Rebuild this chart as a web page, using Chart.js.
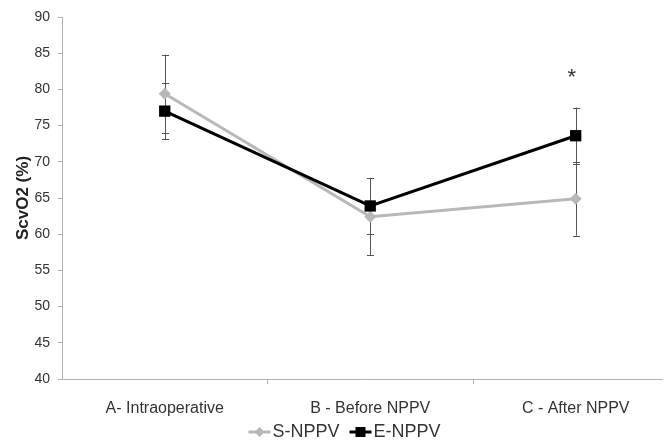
<!DOCTYPE html>
<html>
<head>
<meta charset="utf-8">
<script src="https://cdn.jsdelivr.net/npm/chart.js@4.4.1/dist/chart.umd.min.js"></script>
<style>
  html, body { margin: 0; padding: 0; background: #fff; }
</style>
</head>
<body>
<canvas id="grafico" width="664" height="441"></canvas>
<script>
const categorias = ['A- Intraoperative', 'B - Before NPPV', 'C - After NPPV'];
const sNppv = [79.4, 62.4, 64.9];
const sNppvErro = [5.4, 5.3, 5.1];
const eNppv = [77.0, 63.9, 73.6];
const eNppvErro = [3.9, 3.9, 3.9];
const yMin = 40, yMax = 90, yPasso = 5;
// asterisco de significância sobre C
const marcas = [{ indice: 2, valor: 82.3, texto: '*' }];

Chart.defaults.font.family = "'Liberation Sans', Arial, sans-serif";

const cinza = '#b8b8b8';
const eixo = '#b0b0b0';

const barrasErro = {
  id: 'barrasErro',
  beforeDatasetsDraw(chart) {
    const { ctx, scales: { y } } = chart;
    ctx.save();
    ctx.strokeStyle = '#555';
    ctx.lineWidth = 1;
    chart.data.datasets.forEach((ds, i) => {
      const meta = chart.getDatasetMeta(i);
      meta.data.forEach((pt, j) => {
        const v = ds.data[j].y, e = ds.erros[j];
        const x = Math.round(pt.x) + 0.5;
        const y1 = y.getPixelForValue(v + e), y2 = y.getPixelForValue(v - e);
        ctx.beginPath();
        ctx.moveTo(x, y1); ctx.lineTo(x, y2);
        ctx.moveTo(x - 3.5, Math.round(y1) + 0.5); ctx.lineTo(x + 3.5, Math.round(y1) + 0.5);
        ctx.moveTo(x - 3.5, Math.round(y2) + 0.5); ctx.lineTo(x + 3.5, Math.round(y2) + 0.5);
        ctx.stroke();
      });
    });
    ctx.restore();
  }
};

const extras = {
  id: 'extras',
  afterDraw(chart) {
    const { ctx, scales: { x, y }, chartArea } = chart;
    ctx.save();
    // marcas de divisão no eixo x
    ctx.strokeStyle = eixo;
    ctx.lineWidth = 1;
    for (let i = 0; i < categorias.length; i++) {
      const px = Math.round(x.getPixelForValue(i + 0.5)) + 0.5;
      if (px > chartArea.right) continue;
      ctx.beginPath();
      ctx.moveTo(px, chartArea.bottom);
      ctx.lineTo(px, chartArea.bottom + 5);
      ctx.stroke();
    }
    // asterisco
    ctx.fillStyle = '#333';
    ctx.font = "22px 'Liberation Sans', Arial, sans-serif";
    ctx.textAlign = 'center';
    ctx.textBaseline = 'alphabetic';
    marcas.forEach(m => {
      const m2 = ctx.measureText(m.texto);
      const cy = y.getPixelForValue(m.valor);
      const base = cy + (m2.actualBoundingBoxAscent - m2.actualBoundingBoxDescent) / 2;
      ctx.fillText(m.texto, x.getPixelForValue(m.indice) - 4, base);
    });
    // legenda
    ctx.font = "18px 'Liberation Sans', Arial, sans-serif";
    ctx.textAlign = 'left';
    ctx.textBaseline = 'middle';
    const iconW = 22, gap = 2, itemGap = 10, ly = 432;
    const itens = chart.data.datasets.map(ds => ({ ds, w: ctx.measureText(ds.label).width }));
    const total = itens.reduce((s, it) => s + iconW + gap + it.w, 0) + itemGap * (itens.length - 1);
    let cx = 344.5 - total / 2;
    itens.forEach(({ ds, w }) => {
      ctx.strokeStyle = ds.borderColor;
      ctx.fillStyle = ds.borderColor;
      ctx.lineWidth = 3;
      ctx.beginPath();
      ctx.moveTo(cx, ly); ctx.lineTo(cx + iconW, ly);
      ctx.stroke();
      const mx = cx + iconW / 2;
      ctx.beginPath();
      if (ds.pointStyle === 'rectRot') {
        ctx.moveTo(mx, ly - 5); ctx.lineTo(mx + 5, ly); ctx.lineTo(mx, ly + 5); ctx.lineTo(mx - 5, ly);
      } else {
        ctx.rect(mx - 5, ly - 5, 10, 10);
      }
      ctx.closePath();
      ctx.fill();
      ctx.fillStyle = '#333';
      ctx.fillText(ds.label, cx + iconW + gap, ly);
      cx += iconW + gap + w + itemGap;
    });
    ctx.restore();
  }
};

new Chart(document.getElementById('grafico').getContext('2d'), {
  type: 'line',
  data: {
    datasets: [
      {
        label: 'S-NPPV',
        data: sNppv.map((v, i) => ({ x: i, y: v })),
        erros: sNppvErro,
        borderColor: cinza,
        backgroundColor: cinza,
        borderWidth: 3,
        pointStyle: 'rectRot',
        pointRadius: 6,
        pointBorderWidth: 0,
        pointBackgroundColor: cinza,
        order: 1
      },
      {
        label: 'E-NPPV',
        data: eNppv.map((v, i) => ({ x: i, y: v })),
        erros: eNppvErro,
        borderColor: '#000',
        backgroundColor: '#000',
        borderWidth: 3,
        pointStyle: 'rect',
        pointRadius: 8,
        pointBorderWidth: 0,
        pointBackgroundColor: '#000',
        order: 0
      }
    ]
  },
  options: {
    responsive: false,
    animation: false,
    layout: { autoPadding: false, padding: { top: 17, right: 2, bottom: 22, left: 0 } },
    plugins: {
      legend: { display: false },
      tooltip: { enabled: false }
    },
    scales: {
      x: {
        type: 'linear',
        min: -0.5,
        max: 2.42,
        afterBuildTicks: s => { s.ticks = categorias.map((c, i) => ({ value: i })); },
        ticks: {
          callback: v => categorias[v],
          font: { size: 16 },
          color: '#333',
          padding: 12,
          maxRotation: 0,
          autoSkip: false
        },
        grid: { display: false },
        border: { display: true, color: eixo, width: 1 },
        afterFit: s => { s.height = 40; s.paddingLeft = 0; s.paddingRight = 0; }
      },
      y: {
        min: yMin,
        max: yMax,
        ticks: { stepSize: yPasso, font: { size: 14 }, color: '#333', padding: 8 },
        grid: { drawOnChartArea: false, tickLength: 4, color: eixo },
        border: { color: eixo },
        title: {
          display: true,
          text: 'ScvO2 (%)',
          font: { size: 17, weight: 'bold' },
          color: '#222',
          padding: { top: 13, bottom: 0 }
        },
        afterFit: s => { s.width = 62; }
      }
    }
  },
  plugins: [barrasErro, extras]
});
</script>
</body>
</html>
